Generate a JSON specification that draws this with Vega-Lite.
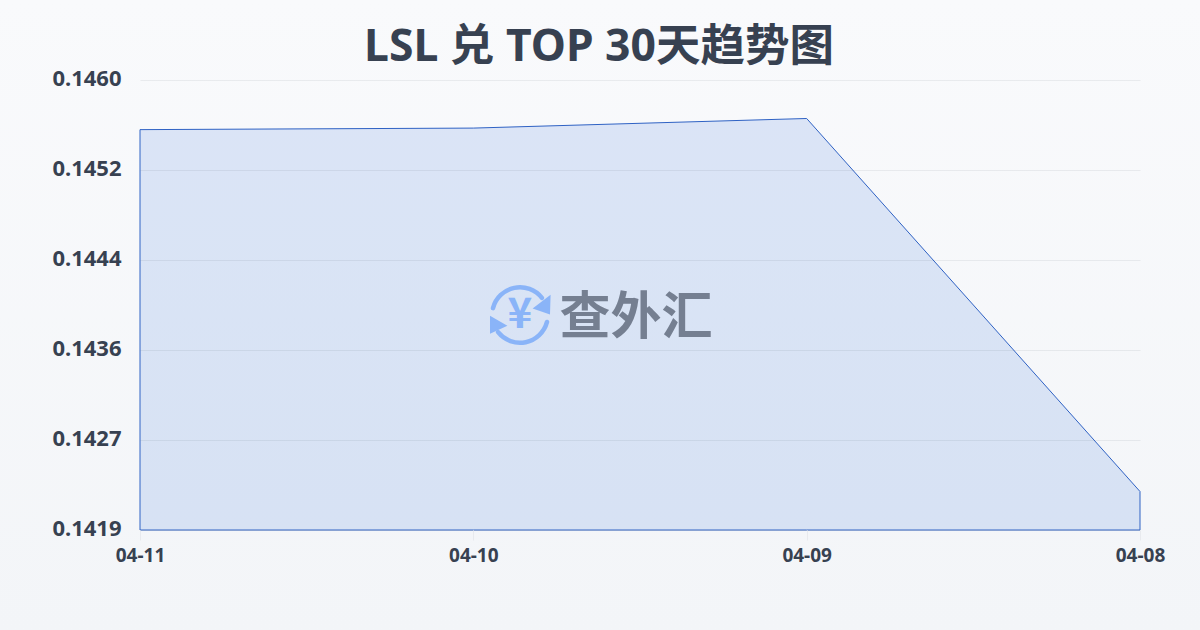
{
  "$schema": "https://vega.github.io/schema/vega-lite/v6.json",
  "width": 1000,
  "height": 450,
  "autosize": {"type": "none"},
  "padding": {"left": 140, "top": 80, "right": 60, "bottom": 100},
  "background": "#f6f7fa",
  "title": {
    "text": "LSL 兑 TOP 30天趋势图",
    "font": "Noto Sans, Noto Sans CJK SC",
    "fontSize": 44.5,
    "fontWeight": "bold",
    "color": "#374151",
    "anchor": "middle",
    "dx": -41,
    "offset": -70
  },
  "config": {"view": {"stroke": null}},
  "datasets": {
    "rates": [
      {"date": "04-11", "rate": 0.14555},
      {"date": "04-10", "rate": 0.145564},
      {"date": "04-09", "rate": 0.145651},
      {"date": "04-08", "rate": 0.142269}
    ],
    "mark": [{"name": "查外汇", "yen": "¥"}]
  },
  "resolve": {"scale": {"x": "independent"}},
  "layer": [
    {
      "data": {"name": "mark"},
      "mark": {
        "type": "rect",
        "fill": {
          "gradient": "linear",
          "x1": 0, "y1": 0, "x2": 0, "y2": 1,
          "stops": [
            {"offset": 0, "color": "#f9fafc"},
            {"offset": 1, "color": "#f3f5f8"}
          ]
        }
      },
      "encoding": {
        "x": {"datum": -14, "type": "quantitative", "scale": {"domain": [0, 100]}, "axis": null},
        "x2": {"datum": 106},
        "y": {"datum": 0.146725, "type": "quantitative"},
        "y2": {"datum": 0.141013}
      }
    },
    {
      "data": {"name": "rates"},
      "mark": {
        "type": "area",
        "fill": "#2a67db",
        "fillOpacity": 0.14,
        "stroke": "#2f62c4",
        "strokeWidth": 1
      },
      "encoding": {
        "x": {
          "field": "date",
          "type": "ordinal",
          "sort": null,
          "scale": {"type": "point", "padding": 0},
          "axis": {
            "title": null,
            "zindex": 1,
            "labelAngle": 0,
            "labelFont": "Noto Sans",
            "labelFontSize": 19,
            "labelFontWeight": "bold",
            "labelColor": "#374151",
            "labelPadding": 6,
            "tickSize": 10,
            "tickColor": "#e8eaee",
            "domain": false,
            "grid": false
          }
        },
        "y": {
          "field": "rate",
          "type": "quantitative",
          "scale": {"domain": [0.14192, 0.146], "zero": false, "nice": false},
          "axis": {
            "title": null,
            "zindex": 1,
            "values": [0.14192, 0.142736, 0.143552, 0.144368, 0.145184, 0.146],
            "format": ".4f",
            "labelFont": "Noto Sans",
            "labelFontSize": 22,
            "labelFontWeight": "bold",
            "labelColor": "#374151",
            "labelPadding": 19,
            "labelOffset": -2,
            "ticks": false,
            "domain": false,
            "grid": true,
            "gridColor": "#1f2937",
            "gridOpacity": 0.07,
            "gridWidth": 1
          }
        },
        "y2": {"datum": 0.14192}
      }
    },
    {
      "data": {"name": "mark"},
      "mark": {
        "type": "point",
        "shape": "M-0.9 -0.23 A0.93 0.93 0 0 1 0.73 -0.57 M0.9 0.23 A0.93 0.93 0 0 1 -0.73 0.57",
        "filled": false,
        "stroke": "#8ab4f8",
        "strokeWidth": 4.5,
        "opacity": 1,
        "size": 3600,
        "strokeCap": "round"
      },
      "encoding": {
        "x": {"datum": 38, "type": "quantitative", "scale": {"domain": [0, 100]}, "axis": null},
        "y": {"datum": 0.143869, "type": "quantitative"}
      }
    },
    {
      "data": {"name": "mark"},
      "mark": {
        "type": "point",
        "shape": "M1.02 -0.68 L1 -0.02 L0.42 -0.22 Z M-1 0.02 L-1 0.62 L-0.42 0.36 Z",
        "filled": true,
        "fill": "#8ab4f8",
        "opacity": 1,
        "size": 3600
      },
      "encoding": {
        "x": {"datum": 38, "type": "quantitative", "scale": {"domain": [0, 100]}, "axis": null},
        "y": {"datum": 0.143869, "type": "quantitative"}
      }
    },
    {
      "data": {"name": "mark"},
      "mark": {
        "type": "text",
        "font": "Noto Sans CJK SC",
        "fontSize": 42,
        "fontWeight": "bold",
        "color": "#8ab4f8",
        "align": "center",
        "baseline": "middle"
      },
      "encoding": {
        "text": {"field": "yen"},
        "x": {"datum": 38, "type": "quantitative", "scale": {"domain": [0, 100]}, "axis": null},
        "y": {"datum": 0.143869, "type": "quantitative"}
      }
    },
    {
      "data": {"name": "mark"},
      "mark": {
        "type": "text",
        "font": "Noto Sans CJK SC",
        "fontSize": 51,
        "fontWeight": "bold",
        "color": "#757f91",
        "align": "center",
        "baseline": "middle"
      },
      "encoding": {
        "text": {"field": "name"},
        "x": {"datum": 49.6, "type": "quantitative", "scale": {"domain": [0, 100]}, "axis": null},
        "y": {"datum": 0.143833, "type": "quantitative"}
      }
    }
  ]
}
